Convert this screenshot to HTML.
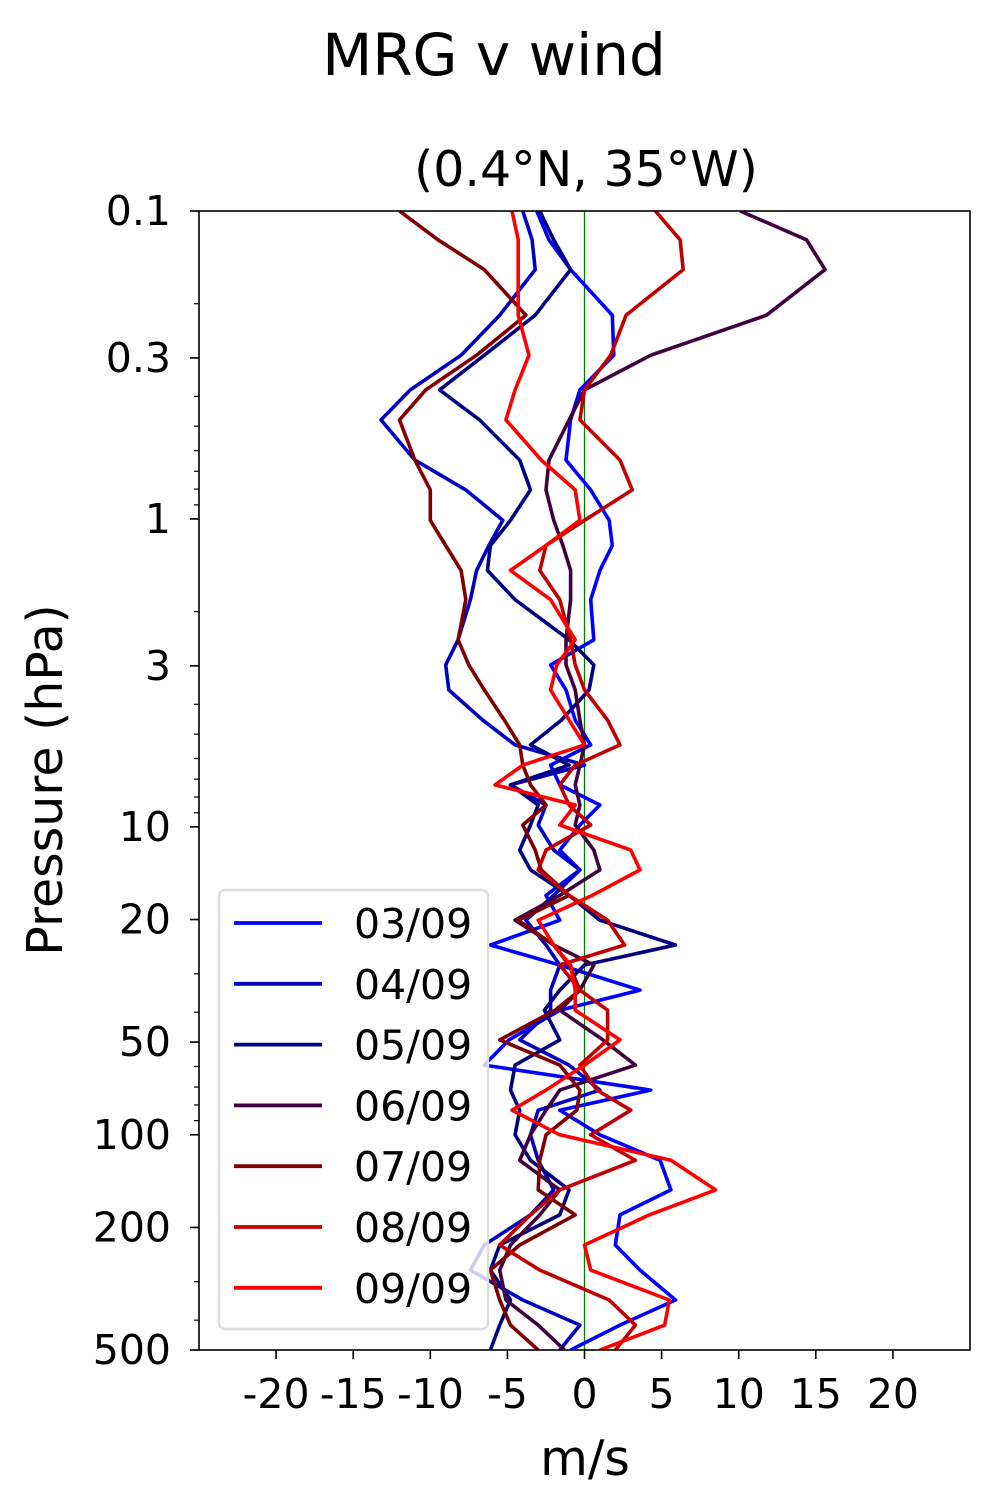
<!DOCTYPE html>
<html><head><meta charset="utf-8"><style>
body{margin:0;background:#fff;}
svg text{font-family:"DejaVu Sans","Liberation Sans",sans-serif;fill:#000;}
</style></head><body>
<svg id="chart" width="990" height="1500" xmlns="http://www.w3.org/2000/svg">
<text x="494" y="75" font-size="58" text-anchor="middle">MRG v wind</text>
<text x="586" y="186" font-size="49" text-anchor="middle">(0.4°N, 35°W)</text>
<text transform="translate(62,780) rotate(-90)" font-size="49" text-anchor="middle">Pressure (hPa)</text>
<text x="585" y="1475" font-size="49" text-anchor="middle">m/s</text>
<defs><clipPath id="clip"><rect x="199" y="211" width="771" height="1139"/></clipPath></defs>
<g id="ticks"></g>
<g id="series" clip-path="url(#clip)"></g>
<rect x="199" y="211" width="771" height="1139" fill="none" stroke="#000" stroke-width="1.6"/>
<g id="legend"></g>
</svg>
<script>
const pressures=[0.1,0.124,0.155,0.218,0.294,0.381,0.477,0.644,0.805,1.01,1.22,1.47,1.83,2.47,2.98,3.59,4.5,5.42,6.3,7.31,8.49,9.86,11.9,13.8,16.7,20.1,24.2,28.1,33.9,39.4,49.2,59.4,71.6,83.2,100,121,151,182,228,275,344,415,500];
const labels=["03/09","04/09","05/09","06/09","07/09","08/09","09/09"];
const v0309=[-3.1,-2.3,-0.9,1.8,1.9,-0.3,-0.9,-1.2,0.4,1.6,1.8,1.0,0.4,0.6,-2.2,-1.2,-0.6,0.4,-2.2,-1.6,1.0,-0.3,-1.6,-0.3,-2.5,-1.6,-6.1,-1.6,3.6,-1.6,-4.9,-6.5,4.3,-1.6,1.0,4.9,5.6,2.3,2.0,3.6,5.9,2.3,-0.9];
const v0409=[-4.0,-3.4,-3.2,-5.5,-8,-11.3,-13.2,-11,-7.7,-5.3,-6.2,-7,-7.4,-8.2,-9,-8.8,-6.6,-4.5,0,-4.8,-2.5,-3,-2,-0.3,-2,-3.8,-2.5,-1.6,-2.2,-2.2,-4.2,-1,1,-3,-3.5,-3,-2,-3.5,-6.5,-7.4,-4,-0.3,-1.6];
const v0509=[-2.9,-2,-0.9,-3.2,-6.5,-9.4,-6.8,-4.2,-3.5,-4.8,-6.1,-6.3,-4.5,-1,0.6,0.3,-1.5,-3.5,-1,-4.8,-3,-3.5,-4.2,-3.5,-1,1,5.9,0,-1.6,-2.6,-1.6,-4.5,-4.8,-4.2,-4.5,-3.5,-1,-1.6,-5.5,-6.1,-4.8,-5.5,-6.1];
const v0609=[10.1,14.4,15.6,11.8,4.3,0,-1,-2.3,-2.5,-2,-1.4,-0.9,-0.9,-1.2,-1.2,-0.6,-0.3,0,-0.3,-0.6,-0.3,-0.6,0.6,1.0,-1.6,-4.5,-2,0.6,-0.3,-1.6,1.2,3.3,-1.6,-2.5,-3.5,-4.2,-1.6,-2.9,-4.8,-5.5,-5.1,-3,-1.3];
const v0709=[-12,-9.5,-6.5,-3.8,-7,-10.3,-12,-11,-10,-10,-9,-8,-7.7,-8.2,-7.5,-6.5,-5.2,-4.2,-4,-3.5,-2.5,-4,-3.2,-2.8,-1,-4.3,-2,-1,-0.3,-1.9,-5.5,-1.6,-0.3,-0.5,-2.5,-2.9,-3,-0.6,-4.2,-6.1,-5.5,-4.8,-3];
const v0809=[4.6,6.2,6.4,2.7,1.7,0,-0.3,2.3,3.1,0,-2.5,-2.9,-1.6,-0.9,-0.6,0,1.5,2.3,-0.6,-1.6,-1,0.4,-2.5,-3,-1,1.5,2.6,-1.6,-0.3,1.5,1.5,-0.3,0.8,3,0.4,3.3,-1.6,-3.5,-5.5,-2.9,1.6,3.3,2];
const v0909=[-4.7,-4.3,-4.3,-4.3,-3.6,-4.5,-5.1,-2.8,-0.6,-0.3,-2.5,-4.8,-2.2,-0.6,-1.8,-2.2,-1,0,-4,-5.8,-0.6,-1.6,3,3.6,0.5,-3,-2,-0.9,-0.6,-0.6,2.3,0,-2.5,-4.7,-1.6,5.6,8.5,4.2,0,0.4,5.5,5.2,1];
const xTicks=[-20,-15,-10,-5,0,5,10,15,20];
const yTicks=[0.1,0.3,1,3,10,20,50,100,200,500];

const NS="http://www.w3.org/2000/svg";
const X0=199,X1=970,Y0=211,Y1=1350,XMIN=-25,XMAX=25,LMIN=-1,LMAX=Math.log10(500);
function xs(v){return X0+(v-XMIN)/(XMAX-XMIN)*(X1-X0);}
function ys(p){return Y0+(Math.log10(p)-LMIN)/(LMAX-LMIN)*(Y1-Y0);}
function mk(tag,attrs,parent){const e=document.createElementNS(NS,tag);for(const k in attrs)e.setAttribute(k,attrs[k]);parent.appendChild(e);return e;}
const tg=document.getElementById('ticks');
xTicks.forEach(t=>{
  const l=mk('line',{x1:xs(t),x2:xs(t),y1:Y1,y2:Y1+9,stroke:'#000','stroke-width':1.6},tg);
  
  
  const tx=mk('text',{x:xs(t),y:Y1+58,'font-size':41,'text-anchor':'middle'},tg);
  tx.textContent=String(t);
  
  
});
for(let d=-1;d<=2;d++){for(let m=1;m<10;m++){const p=m*Math.pow(10,d);if(p<0.1||p>500)continue;
  const l=mk('line',{x1:X0-5,x2:X0,y1:ys(p),y2:ys(p),stroke:'#000','stroke-width':1.2},tg);
  
  }}
yTicks.forEach(t=>{
  const l=mk('line',{x1:X0-9,x2:X0,y1:ys(t),y2:ys(t),stroke:'#000','stroke-width':1.6},tg);
  
  
  const tx=mk('text',{x:X0-28,y:ys(t)+14,'font-size':41,'text-anchor':'end'},tg);
  tx.textContent=String(t);
  
  
});
const sg=document.getElementById('series');
const zl=mk('line',{x1:xs(0),x2:xs(0),y1:Y0,y2:Y1,stroke:'#008000','stroke-width':1.3},sg);


const series=[v0309,v0409,v0509,v0609,v0709,v0809,v0909];
const colors=['#0000ff','#0000c0','#000080','#400040','#800000','#c00000','#ff0000'];
series.forEach((vals,i)=>{
  const pts=vals.map((v,j)=>xs(v).toFixed(1)+','+ys(pressures[j]).toFixed(1)).join(' ');
  const pl=mk('polyline',{points:pts,fill:'none',stroke:colors[i],'stroke-width':3.6,'stroke-linejoin':'round'},sg);
  
  
});
const lg=document.getElementById('legend');
const box=mk('rect',{x:219,y:890,width:269,height:439,rx:6,fill:'#fff','fill-opacity':0.8,stroke:'#ddd','stroke-width':2.4},lg);


labels.forEach((lab,i)=>{
  const y=923+i*60.8;
  const l=mk('line',{x1:234,x2:322,y1:y,y2:y,stroke:colors[i],'stroke-width':3.8},lg);
  
  
  const t=mk('text',{x:354,y:y+15,'font-size':41},lg);
  t.textContent=lab;
  
  
});
</script>
</body></html>
